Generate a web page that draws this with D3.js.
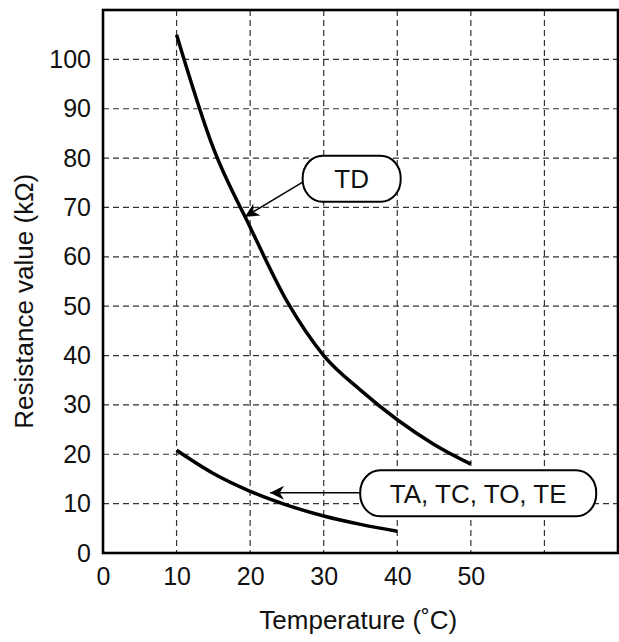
<!DOCTYPE html>
<html>
<head>
<meta charset="utf-8">
<script src="https://cdn.jsdelivr.net/npm/d3@7"></script>
<style>
  body { margin: 0; background: #fff; }
  svg text { font-family: "Liberation Sans", Arial, sans-serif; fill: #111; }
</style>
</head>
<body>
<div id="chart"></div>
<script>
const w = 619;
const h = 642;
const margin = { top: 10, right: 1, bottom: 89, left: 103 };
const width = w - margin.left - margin.right;
const height = h - margin.top - margin.bottom;

// curves
const tdTemp = [10, 15, 20, 25, 30, 35, 40, 45, 50];
const tdRes = [105, 82, 66, 51, 40, 33, 27, 22, 18];
const taTemp = [10, 15, 20, 25, 30, 35, 40];
const taRes = [20.8, 16.1, 12.5, 9.7, 7.5, 5.8, 4.4];

const xTicks = [0, 10, 20, 30, 40, 50];
const xGrid = [10, 20, 30, 40, 50, 60];
const yTicks = [0, 10, 20, 30, 40, 50, 60, 70, 80, 90, 100];
const yGrid = [10, 20, 30, 40, 50, 60, 70, 80, 90, 100];

const labels = [
  { text: "TD", box: [33.8, 75.8], w: 98, h: 46, tip: [19.3, 68.1], from: [27.2, 75.2] },
  { text: "TA, TC, TO, TE", box: [51, 12.1], w: 236, h: 46, tip: [22.7, 12.2], from: [34.9, 12.2] }
];

const svg = d3.select('#chart').append('svg')
  .attr('width', w)
  .attr('height', h);

const chart = svg.append('g')
  .attr('transform', `translate(${margin.left},${margin.top})`);

const x = d3.scaleLinear().domain([0, 70]).range([0, width]);
const y = d3.scaleLinear().domain([0, 110]).range([height, 0]);

// grid
chart.append('g').selectAll('line')
  .data(xGrid)
  .enter().append('line')
    .attr('x1', d => x(d)).attr('x2', d => x(d))
    .attr('y1', 0).attr('y2', height)
    .attr('stroke', '#333').attr('stroke-width', 1.2)
    .attr('stroke-dasharray', '6,4');

chart.append('g').selectAll('line')
  .data(yGrid)
  .enter().append('line')
    .attr('y1', d => y(d)).attr('y2', d => y(d))
    .attr('x1', 0).attr('x2', width)
    .attr('stroke', '#333').attr('stroke-width', 1.2)
    .attr('stroke-dasharray', '6,4');

// axes
const xAxis = d3.axisBottom(x).tickValues(xTicks).tickSize(0).tickPadding(14);
const yAxis = d3.axisLeft(y).tickValues(yTicks).tickSize(0).tickPadding(12);

chart.append('g')
  .attr('transform', `translate(0,${height})`)
  .call(xAxis)
  .attr('font-size', 25)
  .attr('font-family', '"Liberation Sans", Arial, sans-serif')
  .call(g => g.select('.domain').remove());

chart.append('g')
  .call(yAxis)
  .attr('font-size', 25)
  .attr('font-family', '"Liberation Sans", Arial, sans-serif')
  .call(g => g.select('.domain').remove());

// frame
chart.append('rect')
  .attr('width', width).attr('height', height)
  .attr('fill', 'none')
  .attr('stroke', '#000')
  .attr('stroke-width', 2.6);

// curves
const line = d3.line()
  .x(d => x(d[0]))
  .y(d => y(d[1]))
  .curve(d3.curveMonotoneX);

chart.append('path')
  .datum(d3.zip(tdTemp, tdRes))
  .attr('d', line)
  .attr('fill', 'none').attr('stroke', '#000').attr('stroke-width', 3.5);

chart.append('path')
  .datum(d3.zip(taTemp, taRes))
  .attr('d', line)
  .attr('fill', 'none').attr('stroke', '#000').attr('stroke-width', 3.5);

// arrows and labels
svg.append('defs').append('marker')
  .attr('id', 'arrow')
  .attr('viewBox', '0 0 10 10')
  .attr('refX', 10).attr('refY', 5)
  .attr('markerWidth', 14).attr('markerHeight', 14)
  .attr('markerUnits', 'userSpaceOnUse')
  .attr('orient', 'auto')
  .append('path')
    .attr('d', 'M0,0 L10,5 L0,10 L3,5 Z')
    .attr('fill', '#000');

const ann = chart.append('g').selectAll('g')
  .data(labels)
  .enter().append('g');

ann.append('line')
  .attr('x1', d => x(d.from[0])).attr('y1', d => y(d.from[1]))
  .attr('x2', d => x(d.tip[0])).attr('y2', d => y(d.tip[1]))
  .attr('stroke', '#000').attr('stroke-width', 1.5)
  .attr('marker-end', 'url(#arrow)');

ann.append('rect')
  .attr('x', d => x(d.box[0]) - d.w / 2)
  .attr('y', d => y(d.box[1]) - d.h / 2)
  .attr('width', d => d.w).attr('height', d => d.h)
  .attr('rx', 20).attr('ry', 22)
  .attr('fill', '#fff').attr('stroke', '#000').attr('stroke-width', 2);

ann.append('text')
  .attr('x', d => x(d.box[0]))
  .attr('y', d => y(d.box[1]))
  .attr('dy', '0.36em')
  .attr('text-anchor', 'middle')
  .attr('font-size', 26)
  .text(d => d.text);

// titles
svg.append('text')
  .attr('x', margin.left + x(34.7))
  .attr('y', 629)
  .attr('text-anchor', 'middle')
  .attr('font-size', 26)
  .text('Temperature (˚C)');

svg.append('text')
  .attr('transform', `translate(33,${margin.top + y(51)}) rotate(-90)`)
  .attr('text-anchor', 'middle')
  .attr('font-size', 26)
  .text('Resistance value (kΩ)');
</script>
</body>
</html>
